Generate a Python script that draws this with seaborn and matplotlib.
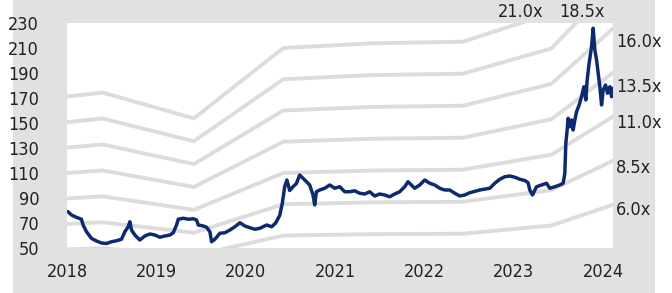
import matplotlib
matplotlib.use("Agg")
import matplotlib.pyplot as plt
import seaborn as sns
import pandas as pd
import numpy as np
from matplotlib.patches import Rectangle

# ---- data ----
price_t = [2018.01, 2018.05, 2018.106, 2018.162, 2018.18, 2018.218, 2018.274, 2018.33, 2018.386, 2018.442,
           2018.498, 2018.554, 2018.61, 2018.647, 2018.685, 2018.703, 2018.722, 2018.759, 2018.815, 2018.871,
           2018.927, 2018.983, 2019.039, 2019.095, 2019.151, 2019.189, 2019.226, 2019.245, 2019.301, 2019.357,
           2019.413, 2019.45, 2019.469, 2019.525, 2019.562, 2019.599, 2019.618, 2019.655, 2019.711, 2019.767,
           2019.823, 2019.879, 2019.935, 2019.991, 2020.047, 2020.103, 2020.159, 2020.234, 2020.29, 2020.335,
           2020.38, 2020.41, 2020.436, 2020.461, 2020.492, 2020.529, 2020.567, 2020.604, 2020.641, 2020.679,
           2020.716, 2020.753, 2020.772, 2020.791, 2020.828, 2020.884, 2020.94, 2020.996, 2021.052, 2021.108,
           2021.164, 2021.219, 2021.275, 2021.331, 2021.387, 2021.443, 2021.499, 2021.555, 2021.611, 2021.667,
           2021.723, 2021.779, 2021.816, 2021.854, 2021.891, 2021.947, 2022.003, 2022.059, 2022.115, 2022.171,
           2022.227, 2022.283, 2022.339, 2022.395, 2022.451, 2022.507, 2022.619, 2022.731, 2022.787, 2022.843,
           2022.899, 2022.955, 2023.011, 2023.067, 2023.123, 2023.16, 2023.179, 2023.209, 2023.254, 2023.31,
           2023.366, 2023.403, 2023.459, 2023.515, 2023.552, 2023.571, 2023.582, 2023.597, 2023.608, 2023.627,
           2023.646, 2023.664, 2023.683, 2023.702, 2023.731, 2023.758, 2023.784, 2023.806, 2023.821, 2023.843,
           2023.87, 2023.888, 2023.907, 2023.926, 2023.944, 2023.963, 2023.982, 2024.0, 2024.027, 2024.049,
           2024.075, 2024.094, 2024.109]
price_v = [79.1, 76.4, 74.5, 73.0, 68.4, 63.0, 57.7, 55.6, 54.0, 53.6,
           55.0, 55.8, 57.0, 63.0, 67.0, 71.0, 64.4, 60.4, 56.4, 59.6,
           61.2, 60.4, 58.6, 59.6, 60.4, 62.2, 68.4, 73.0, 73.8, 73.0,
           73.4, 72.4, 68.4, 67.6, 66.6, 63.0, 55.0, 57.0, 61.8, 62.2,
           64.4, 67.0, 70.2, 67.6, 66.2, 65.0, 65.8, 68.4, 67.0, 70.0,
           76.0, 86.0, 99.0, 104.4, 96.0, 99.0, 101.6, 108.4, 105.8, 103.0,
           100.4, 92.4, 84.4, 95.0, 96.4, 97.8, 100.4, 97.8, 99.0, 95.0,
           95.0, 95.8, 93.8, 93.2, 95.0, 91.6, 93.2, 92.4, 91.0, 93.2,
           95.0, 99.0, 103.0, 100.4, 97.8, 100.4, 104.4, 101.8, 100.4, 97.8,
           96.4, 96.4, 93.8, 91.6, 92.4, 94.2, 96.4, 97.8, 101.8, 105.0,
           107.0, 107.6, 106.6, 105.0, 104.0, 102.2, 96.4, 92.4, 99.0, 100.4,
           101.8, 97.8, 99.0, 100.4, 101.8, 109.8, 133.8, 144.4, 153.8, 147.0,
           152.4, 144.4, 152.4, 159.0, 164.4, 171.0, 179.0, 168.4, 184.4, 197.8,
           211.0, 225.8, 208.4, 200.4, 189.8, 179.0, 164.4, 176.4, 180.4, 173.8,
           179.0, 171.0, 177.8]

eps_t = [2018.0, 2018.40, 2019.42, 2020.42, 2021.42, 2022.43, 2023.42, 2024.11]
eps_v = [8.15, 8.30, 7.32, 10.00, 10.18, 10.24, 11.33, 14.10]
multiples = [6.0, 8.5, 11.0, 13.5, 16.0, 18.5, 21.0]
mult_labels = ["6.0x", "8.5x", "11.0x", "13.5x", "16.0x", "18.5x", "21.0x"]
y_ticks = [50, 70, 90, 110, 130, 150, 170, 190, 210, 230]
x_ticks = [2018, 2019, 2020, 2021, 2022, 2023, 2024]

# ---- figure ----
sns.set_theme(style="white")
plt.rcParams["font.family"] = ["DejaVu Sans"]
plt.rcParams["font.stretch"] = "condensed"

fig = plt.figure(figsize=(6.72, 2.93), dpi=100)
fig.patch.set_facecolor("white")
bg = Rectangle((13 / 672, 0), (655 - 13) / 672, 1, transform=fig.transFigure,
               facecolor="#e1e1e1", edgecolor="none", zorder=-10)
fig.add_artist(bg)
ax = fig.add_axes([67 / 672, 45 / 293, 546 / 672, 225 / 293])
ax.set_zorder(1)
ax.set_facecolor("white")

band_rows = []
for m in multiples:
    for t, e in zip(eps_t, eps_v):
        band_rows.append({"t": t, "v": m * e, "m": m})
bands = pd.DataFrame(band_rows)
sns.lineplot(data=bands, x="t", y="v", hue="m", palette=["#dcdcdc"] * len(multiples),
             linewidth=2.8, legend=False, ax=ax, zorder=1)

price = pd.DataFrame({"t": price_t, "v": price_v})
sns.lineplot(data=price, x="t", y="v", color="#0e2a6e", linewidth=2.5, ax=ax, zorder=3)

ax.set_xlim(2018.0, 2024.11)
ax.set_ylim(50, 230)
ax.set_xticks(x_ticks)
ax.set_yticks(y_ticks)
ax.set_xticklabels([str(x) for x in x_ticks])
ax.set_xlabel("")
ax.set_ylabel("")
for s in ax.spines.values():
    s.set_visible(False)
ax.tick_params(axis="both", length=0, labelsize=13, colors="#222222")
ax.tick_params(axis="y", pad=20)
ax.tick_params(axis="x", pad=11)

lab_col = "#222222"
# top labels
ax.text(2023.08, 238.8, mult_labels[6], ha="center", va="center", fontsize=13, color=lab_col, clip_on=False)
ax.text(2023.76, 238.8, mult_labels[5], ha="center", va="center", fontsize=13, color=lab_col, clip_on=False)
# right labels
right_y = {4: 214.8, 3: 178.8, 2: 150.0, 1: 114.0, 0: 80.4}
for i, yv in right_y.items():
    ax.text(1.006, yv, mult_labels[i], transform=ax.get_yaxis_transform(), ha="left", va="center",
            fontsize=13, color=lab_col, clip_on=False)

fig.savefig("out.png", dpi=100)
